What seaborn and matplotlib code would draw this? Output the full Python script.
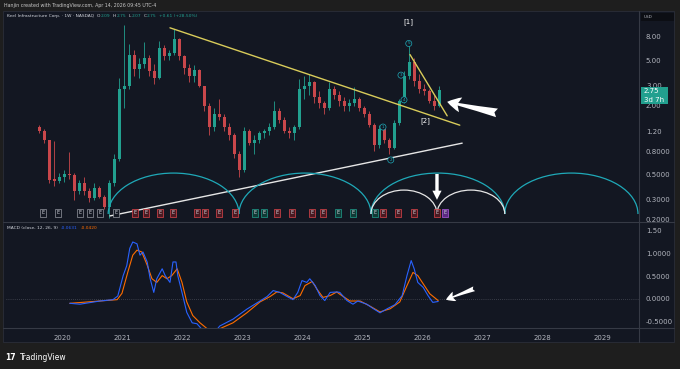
import matplotlib
matplotlib.use("Agg")
import matplotlib.pyplot as plt
from matplotlib.patches import Arc, Rectangle
from matplotlib.lines import Line2D
from matplotlib.ticker import FixedLocator, NullLocator
from matplotlib.transforms import blended_transform_factory
import seaborn as sns
import numpy as np
import pandas as pd

# --- price data (monthly candles), Aug 2019 .. Apr 2026
months = pd.date_range("2019-08-01", "2026-04-01", freq="MS")
first_open = 1.30
close = [1.20, 1.00, 0.45, 0.44, 0.48,
         0.50, 0.49, 0.36, 0.42, 0.36, 0.31, 0.38, 0.32, 0.26, 0.42, 0.68, 2.80,
         3.00, 5.60, 4.20, 4.60, 5.20, 4.00, 3.50, 6.40, 5.40, 5.80, 7.60, 5.40,
         4.30, 3.60, 4.10, 3.00, 2.00, 1.30, 1.70, 1.60, 1.30, 1.10, 0.75, 0.55,
         1.20, 0.95, 1.00, 1.15, 1.20, 1.30, 1.80, 1.50, 1.20, 1.15, 1.30, 2.80,
         3.00, 3.20, 2.40, 2.10, 1.90, 2.80, 2.50, 2.20, 2.00, 2.10, 2.30, 1.90,
         1.70, 1.35, 0.90, 1.25, 1.00, 0.85, 1.40, 2.20, 3.60, 4.80, 3.30, 2.80,
         2.70, 2.20, 2.00, 2.75]
high = [1.35, 1.25, 1.00, 0.98, 0.52,
        0.55, 0.78, 0.52, 0.45, 0.48, 0.38, 0.42, 0.40, 0.33, 0.45, 0.75, 3.50,
        10.2, 6.90, 6.20, 5.20, 7.20, 5.60, 4.60, 7.40, 6.80, 6.20, 9.30, 7.80,
        5.60, 4.60, 4.50, 4.20, 3.00, 2.10, 1.90, 2.30, 1.70, 1.40, 1.15, 0.80,
        1.30, 1.25, 1.10, 1.20, 1.25, 1.40, 2.20, 1.90, 1.60, 1.30, 1.35, 3.40,
        3.60, 3.75, 3.30, 2.70, 2.20, 3.20, 3.00, 2.70, 2.40, 2.30, 2.90, 2.40,
        2.00, 1.80, 1.40, 1.35, 1.30, 1.05, 1.50, 2.30, 4.00, 6.90, 5.20, 3.80,
        3.10, 2.80, 2.50, 3.00]
low = [1.15, 0.95, 0.42, 0.40, 0.42,
       0.43, 0.46, 0.30, 0.34, 0.33, 0.29, 0.30, 0.31, 0.25, 0.21, 0.40, 0.65,
       1.90, 2.80, 3.60, 3.50, 4.30, 3.60, 3.10, 3.40, 5.00, 5.00, 5.60, 5.00,
       3.80, 3.20, 3.20, 2.90, 1.80, 1.10, 1.20, 1.50, 1.20, 1.00, 0.70, 0.48,
       0.53, 0.90, 0.76, 0.95, 1.05, 1.10, 1.25, 1.40, 1.15, 1.05, 1.00, 1.25,
       2.30, 2.50, 2.10, 1.90, 1.70, 1.85, 2.30, 2.00, 1.80, 1.80, 2.00, 1.80,
       1.60, 1.30, 0.80, 0.85, 0.95, 0.75, 0.84, 1.35, 2.10, 3.40, 3.00, 2.60,
       2.50, 2.10, 1.85, 1.95]

# --- MACD (12, 26, 9), points
macd_t = [2020.13, 2020.30, 2020.63, 2020.85, 2020.93, 2021.02, 2021.08, 2021.13,
          2021.18, 2021.25, 2021.30, 2021.35, 2021.42, 2021.47, 2021.53, 2021.58,
          2021.67, 2021.72, 2021.80, 2021.85, 2021.90, 2021.93, 2022.00, 2022.08,
          2022.17, 2022.25, 2022.35, 2022.47, 2022.58, 2022.63, 2022.85, 2023.08,
          2023.30, 2023.42, 2023.52, 2023.63, 2023.75, 2023.85, 2023.93, 2024.00,
          2024.08, 2024.13, 2024.22, 2024.30, 2024.38, 2024.47, 2024.58, 2024.63,
          2024.75, 2024.85, 2024.93, 2025.08, 2025.18, 2025.30, 2025.42, 2025.55,
          2025.67, 2025.75, 2025.82, 2025.87, 2025.93, 2026.02, 2026.10, 2026.18,
          2026.27]
macd_v = [-0.10, -0.12, -0.05, -0.02, 0.06, 0.51, 0.73, 1.11,
          1.25, 1.21, 0.96, 1.03, 0.81, 0.44, 0.14, 0.44,
          0.66, 0.51, 0.36, 0.81, 0.81, 0.51, 0.14, -0.30,
          -0.53, -0.55, -0.70, -0.78, -0.68, -0.60, -0.45, -0.23,
          -0.05, 0.05, 0.18, 0.14, 0.05, -0.02, 0.14, 0.40,
          0.36, 0.44, 0.29, 0.07, -0.04, 0.14, 0.15, 0.14,
          -0.04, -0.12, -0.05, -0.12, -0.21, -0.31, -0.22, -0.13,
          0.07, 0.51, 0.84, 0.66, 0.36, 0.25, 0.07, -0.08,
          -0.06]
signal_t = [2020.13, 2020.63, 2020.92, 2021.00, 2021.10, 2021.18, 2021.25, 2021.33,
            2021.42, 2021.50, 2021.58, 2021.67, 2021.75, 2021.83, 2021.92, 2022.00,
            2022.08, 2022.18, 2022.30, 2022.42, 2022.53, 2022.63, 2022.85, 2023.08,
            2023.30, 2023.47, 2023.58, 2023.68, 2023.85, 2023.97, 2024.05, 2024.17,
            2024.25, 2024.35, 2024.47, 2024.58, 2024.63, 2024.80, 2024.97, 2025.13,
            2025.30, 2025.47, 2025.63, 2025.75, 2025.85, 2025.93, 2026.02, 2026.13,
            2026.27]
signal_v = [-0.10, -0.05, -0.02, 0.12, 0.60, 0.96, 1.07, 1.03,
            0.74, 0.44, 0.36, 0.51, 0.44, 0.51, 0.66, 0.36,
            -0.07, -0.37, -0.53, -0.66, -0.72, -0.66, -0.53, -0.31,
            -0.07, 0.05, 0.15, 0.13, 0.00, 0.07, 0.29, 0.38,
            0.21, 0.03, 0.07, 0.15, 0.10, -0.05, -0.05, -0.16,
            -0.29, -0.22, -0.07, 0.29, 0.58, 0.51, 0.33, 0.11,
            -0.04]

price_ticks = [8, 5, 3, 2, 1.2, 0.8, 0.5, 0.3, 0.2]
price_tick_labels = ["8.00", "5.00", "3.00", "2.00", "1.20", "0.8000", "0.5000", "0.3000", "0.2000"]
macd_ticks = [1.5, 1.0, 0.5, 0.0, -0.5]
macd_tick_labels = ["1.50", "1.0000", "0.5000", "0.0000", "-0.5000"]
years = list(range(2020, 2030))

# --- drawings on the chart
yellow_t, yellow_p = [2021.80, 2026.63], [9.6, 1.35]
yellow2_t, yellow2_p = [2025.80, 2026.42], [5.6, 1.63]
white_t, white_p = [2020.80, 2026.67], [0.217, 0.94]
cycle_edges = [2020.77, 2022.95, 2025.15, 2027.38, 2029.60]
small_cycle_edges = [2025.15, 2026.25, 2027.38]
wave_t = [2025.35, 2025.48, 2025.65, 2025.70, 2025.78]
wave_p = [1.30, 0.67, 3.7, 2.25, 7.0]
wave_lbl = ["1", "2", "3", "4", "5"]
earn_gray = [2019.68, 2019.93, 2020.30, 2020.47, 2020.63, 2020.90]
earn_red = [2021.22, 2021.40, 2021.63, 2021.85, 2022.25, 2022.38, 2022.62, 2022.88,
            2023.58, 2023.83, 2024.17, 2024.35, 2025.35, 2025.60, 2025.87, 2026.25]
earn_green = [2023.22, 2023.37, 2024.60, 2024.85, 2025.22]
earn_purple = [2026.38]

BG = "#131722"
OUT = "#1e1e1e"
TXT = "#b2b5be"
UP = "#22a08f"
DOWN = "#c9474b"
CYAN = "#1fa9b8"

sns.set_theme(style="dark", rc={"axes.facecolor": BG, "figure.facecolor": OUT})
plt.rcParams["font.family"] = ["DejaVu Sans"]

W, H = 680, 369
fig = plt.figure(figsize=(W / 100, H / 100), dpi=100)
renderer = fig.canvas.get_renderer()


def fx(x):
    return x / W


def fy(y):
    return 1 - y / H


def ftext(x, y, s, **kw):
    kw.setdefault("va", "center")
    return fig.text(fx(x), fy(y), s, **kw)


def chain(x, y, parts, fs, **kw):
    # lay out a row of coloured text pieces left to right
    for s, color, gap in parts:
        txt = ftext(x, y, s, fontsize=fs, color=color, **kw)
        x = txt.get_window_extent(renderer).x1 + gap


# chart panel
fig.add_artist(Rectangle((fx(3), fy(342)), fx(674) - fx(3), fy(11) - fy(342),
                         transform=fig.transFigure, facecolor=BG, edgecolor="#2a2e39",
                         lw=0.6, zorder=0))

ax = fig.add_axes([fx(6), fy(222), fx(639) - fx(6), fy(12) - fy(222)])
axm = fig.add_axes([fx(6), fy(328), fx(639) - fx(6), fy(222) - fy(328)])
for a in (ax, axm):
    a.set_facecolor(BG)
    for s in a.spines.values():
        s.set_visible(False)
    a.set_xlim(2019.067, 2029.617)
    a.grid(False)

# candles
t = np.array([m.year + (m.month - 0.5) / 12 for m in months])
c = np.array(close)
o = np.array([first_open] + close[:-1])
hi = np.array(high)
lo = np.array(low)
col = np.where(c >= o, UP, DOWN)
ax.set_yscale("log")
ax.vlines(t, lo, hi, colors=col, lw=0.6, zorder=3)
body_lo = np.minimum(o, c)
body_h = np.maximum(np.abs(c - o), body_lo * 0.03)
ax.bar(t, body_h, bottom=body_lo, width=0.042, color=col, lw=0, zorder=4)
ax.set_ylim(0.192, 13.2)

# trend lines
sns.lineplot(x=yellow_t, y=yellow_p, ax=ax, color="#d9cc5a", lw=1.0, zorder=5)
sns.lineplot(x=yellow2_t, y=yellow2_p, ax=ax, color="#d9cc5a", lw=1.0, zorder=5)
sns.lineplot(x=white_t, y=white_p, ax=ax, color="#e6e6e6", lw=1.0, zorder=5)

# cycle arcs
btr = blended_transform_factory(ax.transData, ax.transAxes)
for a0, a1 in zip(cycle_edges[:-1], cycle_edges[1:]):
    ax.add_patch(Arc(((a0 + a1) / 2, 0.038), a1 - a0, 0.39, theta1=0, theta2=180,
                     transform=btr, color=CYAN, lw=0.9, zorder=5))
for a0, a1 in zip(small_cycle_edges[:-1], small_cycle_edges[1:]):
    ax.add_patch(Arc(((a0 + a1) / 2, 0.038), a1 - a0, 0.228, theta1=0, theta2=180,
                     transform=btr, color="#e6e6e6", lw=0.9, zorder=5))

# wave labels
for wt, wp, wl in zip(wave_t, wave_p, wave_lbl):
    ax.text(wt, wp, wl, fontsize=3, color=CYAN, ha="center", va="center", zorder=7,
            bbox=dict(boxstyle="circle,pad=0.25", fc=BG, ec=CYAN, lw=0.5))
ax.text(2025.78, 10.8, "[1]", fontsize=5, color="white", ha="center", va="center")
ax.text(2026.05, 1.47, "[2]", fontsize=5, color="white", ha="center", va="center")

# arrows
ax.annotate("", xy=(2026.42, 2.16), xytext=(2027.25, 1.73),
            arrowprops=dict(arrowstyle="fancy,head_length=0.55,head_width=0.6,tail_width=0.35",
                            fc="white", ec="none", mutation_scale=18, shrinkA=0, shrinkB=0))
ax.annotate("", xy=(2026.25, 0.30), xytext=(2026.25, 0.505),
            arrowprops=dict(arrowstyle="simple,head_length=0.6,head_width=0.6,tail_width=0.22",
                            fc="white", ec="none", mutation_scale=11, shrinkA=0, shrinkB=0))

# earnings badges
for lst, ec, fc in ((earn_gray, "#9598a1", BG), (earn_red, "#e0474c", "#4a1a22"),
                    (earn_green, "#22a08f", "#113a36"), (earn_purple, "#b05ce0", "#5a2a80")):
    for e in lst:
        ax.text(e, 0.043, "E", transform=btr, fontsize=3.5, color="#d1d4dc", ha="center",
                va="center", zorder=8,
                bbox=dict(boxstyle="square,pad=0.3", fc=fc, ec=ec, lw=0.5))

# price axis
ax.yaxis.tick_right()
ax.yaxis.set_major_locator(FixedLocator(price_ticks))
ax.yaxis.set_minor_locator(NullLocator())
ax.set_yticklabels(price_tick_labels)
ax.tick_params(axis="y", colors=TXT, labelsize=5, length=0, pad=5)
ax.tick_params(axis="x", labelbottom=False, length=0)

# MACD pane
sns.lineplot(x=macd_t, y=macd_v, ax=axm, color="#2962ff", lw=0.8, zorder=4)
sns.lineplot(x=signal_t, y=signal_v, ax=axm, color="#ff6d00", lw=0.8, zorder=3)
axm.axhline(0, color="#5d606b", ls=(0, (1, 2)), lw=0.5, zorder=1)
axm.set_ylim(-0.644, 1.69)
axm.yaxis.tick_right()
axm.set_yticks(macd_ticks)
axm.set_yticklabels(macd_tick_labels)
axm.set_xticks(years)
axm.set_xticklabels([str(y) for y in years])
axm.tick_params(axis="y", colors=TXT, labelsize=5, length=0, pad=5)
axm.tick_params(axis="x", colors=TXT, labelsize=5, length=0, pad=5)
axm.annotate("", xy=(2026.40, -0.02), xytext=(2026.87, 0.22),
             arrowprops=dict(arrowstyle="fancy,head_length=0.55,head_width=0.6,tail_width=0.3",
                             fc="white", ec="none", mutation_scale=12, shrinkA=0, shrinkB=0))
for a in (ax, axm):
    a.set_xlabel("")
    a.set_ylabel("")

# separators
sep = "#363a45"
fig.add_artist(Line2D([fx(3), fx(674)], [fy(222), fy(222)], color=sep, lw=0.8))
fig.add_artist(Line2D([fx(3), fx(674)], [fy(328), fy(328)], color=sep, lw=0.8))
fig.add_artist(Line2D([fx(639), fx(639)], [fy(11), fy(342)], color=sep, lw=0.8))

# header and legends
ftext(4, 5.5, "Hanjin created with TradingView.com, Apr 14, 2026 09:45 UTC-4", fontsize=3.4, color="#c8c8c8")
LT = "#d1d4dc"
chain(7, 16, [("Keel Infrastructure Corp. · 1W · NASDAQ", LT, 3),
              ("O", LT, 0.3), ("2.09", UP, 2.5), ("H", LT, 0.3), ("2.75", UP, 2.5),
              ("L", LT, 0.3), ("2.07", UP, 2.5), ("C", LT, 0.3), ("2.75", UP, 2.5),
              ("+0.61 (+28.50%)", UP, 0)], 3.2)
chain(7, 228, [("MACD (close, 12, 26, 9)", LT, 3), ("-0.0631", "#2962ff", 3),
               ("-0.0420", "#ff6d00", 0)], 3.2)

# last price label (sits over the 3.00 tick, as in the original) and currency box
fig.add_artist(Rectangle((fx(641), fy(104)), fx(668) - fx(641), fy(87) - fy(104),
                         transform=fig.transFigure, facecolor=UP, edgecolor="none", zorder=5))
ftext(644, 91, "2.75", fontsize=5, color="white", zorder=6)
ftext(644, 99.5, "3d 7h", fontsize=5, color="white", zorder=6)
fig.add_artist(Rectangle((fx(641), fy(21)), fx(674) - fx(641), fy(13) - fy(21),
                         transform=fig.transFigure, facecolor="#0c0e14", edgecolor="none", zorder=5))
ftext(644, 17, "USD", fontsize=3, color=TXT, zorder=6)

# footer logo
chain(5, 357, [("17", "white", 2.5)], 5.5, fontweight="bold")
ftext(20, 357, "TradingView", fontsize=5.5, color="white")

fig.savefig("out.png", dpi=100, facecolor=OUT)
